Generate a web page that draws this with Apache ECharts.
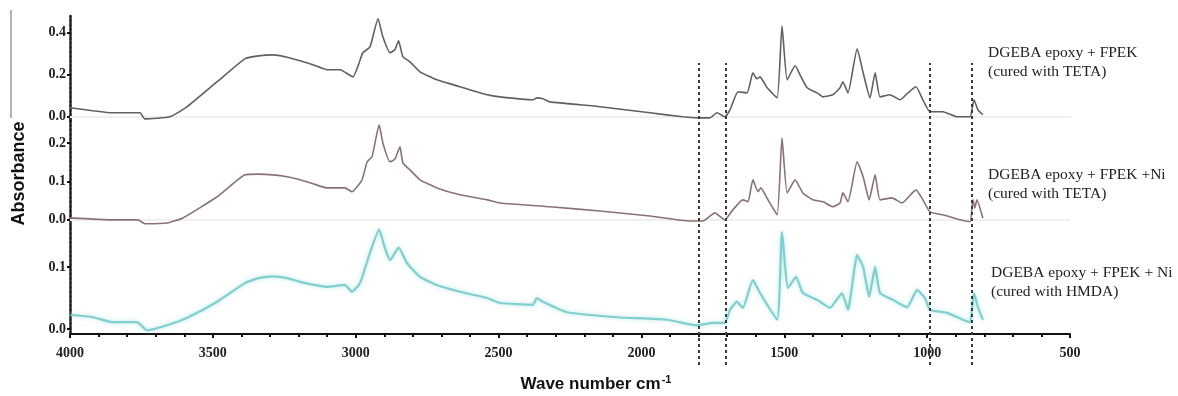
<!DOCTYPE html>
<html>
<head>
<meta charset="utf-8">
<script src="https://cdn.jsdelivr.net/npm/echarts@6/dist/echarts.min.js"></script>
<style>
  html, body { margin: 0; padding: 0; background: #fff; }
  #chart { width: 1178px; height: 396px; }
</style>
</head>
<body>
<div id="chart"></div>
<script>
// FTIR spectra, three stacked panels sharing one wavenumber axis (4000 -> 500 cm-1).
// Values.

// top: DGEBA epoxy + FPEK (TETA)
const waveTop = [4000, 3920, 3850, 3755, 3738, 3650, 3590, 3485, 3388, 3340, 3290, 3240, 3195, 3150, 3100, 3055, 3010,
  2975, 2950, 2922, 2905, 2880, 2863, 2850, 2835, 2810, 2775, 2716, 2635, 2540, 2495, 2380, 2366, 2345,
  2320, 2145, 1970, 1855, 1802, 1760, 1736, 1708, 1690, 1662, 1630, 1610, 1596, 1585, 1560, 1525, 1508,
  1490, 1462, 1445, 1420, 1385, 1364, 1330, 1305, 1295, 1277, 1245, 1224, 1200, 1182, 1165, 1130, 1095,
  1067, 1039, 1015, 990, 945, 895, 850, 836, 822, 805];
const absTop = [0.043, 0.029, 0.019, 0.019, -0.010, 0.000, 0.048, 0.167, 0.276, 0.290, 0.295, 0.284, 0.267, 0.248, 0.224, 0.224, 0.190,
  0.305, 0.333, 0.467, 0.381, 0.305, 0.319, 0.362, 0.286, 0.262, 0.214, 0.176, 0.143, 0.105, 0.095, 0.081, 0.090, 0.086,
  0.071, 0.048, 0.019, 0.000, -0.005, -0.005, 0.019, 0.000, 0.033, 0.119, 0.114, 0.210, 0.181, 0.190, 0.138, 0.090, 0.433,
  0.176, 0.243, 0.200, 0.138, 0.114, 0.095, 0.105, 0.138, 0.167, 0.114, 0.324, 0.210, 0.090, 0.210, 0.095, 0.105, 0.081,
  0.114, 0.143, 0.081, 0.024, 0.024, 0.000, 0.000, 0.081, 0.033, 0.010];

// middle: DGEBA epoxy + FPEK + Ni (TETA)
const waveMid = [4000, 3850, 3762, 3738, 3660, 3605, 3485, 3388, 3340, 3290, 3240, 3195, 3150, 3100, 3038, 3013, 2978,
  2960, 2943, 2918, 2905, 2880, 2863, 2845, 2835, 2810, 2775, 2716, 2635, 2540, 2495, 2320, 2145, 1970,
  1830, 1785, 1743, 1708, 1680, 1645, 1627, 1610, 1592, 1582, 1557, 1525, 1508, 1490, 1462, 1435, 1400,
  1364, 1330, 1305, 1295, 1277, 1245, 1224, 1203, 1182, 1165, 1123, 1088, 1039, 1015, 990, 945, 885,
  850, 840, 833, 826, 805];
const absMid = [0.005, 0.000, 0.000, -0.010, -0.008, 0.005, 0.060, 0.117, 0.119, 0.117, 0.112, 0.104, 0.094, 0.083, 0.083, 0.073, 0.104,
  0.151, 0.164, 0.247, 0.200, 0.151, 0.158, 0.190, 0.148, 0.130, 0.104, 0.083, 0.065, 0.052, 0.044, 0.034, 0.023, 0.010,
  -0.003, -0.003, 0.018, 0.000, 0.026, 0.052, 0.047, 0.104, 0.073, 0.083, 0.052, 0.013, 0.213, 0.070, 0.104, 0.070, 0.052,
  0.047, 0.034, 0.044, 0.070, 0.047, 0.151, 0.112, 0.052, 0.117, 0.052, 0.057, 0.044, 0.078, 0.052, 0.021, 0.013, 0.000,
  -0.005, 0.052, 0.031, 0.052, 0.005];

// bottom: DGEBA epoxy + FPEK + Ni (HMDA)
const waveBot = [4000, 3920, 3850, 3766, 3730, 3660, 3590, 3485, 3388, 3340, 3290, 3240, 3195, 3100, 3038, 3013,
  2985, 2950, 2918, 2898, 2880, 2850, 2820, 2775, 2716, 2635, 2540, 2495, 2380, 2366, 2345, 2260, 2085,
  1910, 1805, 1750, 1708, 1690, 1666, 1645, 1610, 1585, 1525, 1508, 1487, 1459, 1435, 1385, 1340, 1312,
  1298, 1277, 1245, 1224, 1203, 1182, 1165, 1120, 1070, 1035, 1008, 990, 930, 875, 850, 836, 822, 805];
const absBot = [0.023, 0.019, 0.011, 0.011, -0.002, 0.006, 0.018, 0.044, 0.074, 0.082, 0.085, 0.082, 0.076, 0.068, 0.071, 0.060,
  0.074, 0.123, 0.160, 0.131, 0.111, 0.131, 0.106, 0.084, 0.071, 0.060, 0.050, 0.042, 0.039, 0.050, 0.044, 0.027, 0.019,
  0.015, 0.006, 0.010, 0.010, 0.031, 0.044, 0.034, 0.079, 0.058, 0.015, 0.156, 0.066, 0.084, 0.058, 0.047, 0.034, 0.050,
  0.058, 0.031, 0.119, 0.100, 0.052, 0.100, 0.058, 0.047, 0.035, 0.063, 0.050, 0.031, 0.026, 0.015, 0.011, 0.058, 0.035,
  0.015];

const yTicksTop = [0, 0.2, 0.4];
const yTicksMid = [0, 0.1, 0.2];
const yTicksBot = [0, 0.1];
const dashedAt = [1800, 1705, 990, 843];
const panelLabels = [
  "DGEBA epoxy + FPEK\n(cured with TETA)",
  "DGEBA epoxy + FPEK +Ni\n(cured with TETA)",
  "DGEBA epoxy + FPEK + Ni\n(cured with HMDA)",
];

const SERIF = '"Liberation Serif", "Times New Roman", serif';
const SANS = '"Liberation Sans", Arial, sans-serif';
const zip = (xs, ys) => xs.map((x, i) => [x, ys[i]]);

const xBase = { type: "value", min: 500, max: 4000, inverse: true, splitLine: { show: false } };
const faintX = (i) => ({
  ...xBase, gridIndex: i,
  axisLine: { show: true, lineStyle: { color: "#efefef", width: 2 } },
  axisTick: { show: false }, axisLabel: { show: false },
});
const yAxisFor = (i, min, max, ticks, extra) => ({
  type: "value", gridIndex: i, min, max,
  splitLine: { show: false },
  axisLine: { show: true, onZero: false, lineStyle: { color: "#1a1a1a", width: 2.5, type: [3, 1.5] } },
  axisTick: { show: true, length: 3, customValues: ticks, lineStyle: { color: "#111", width: 2 } },
  axisLabel: {
    customValues: ticks, margin: 4,
    color: "#222", fontFamily: SERIF, fontWeight: "bold", fontSize: 14,
    formatter: (v) => v.toFixed(1),
  },
  ...extra,
});
const spectrum = (i, data, color, width, extra) => ({
  type: "line", xAxisIndex: i, yAxisIndex: i, data,
  showSymbol: false, symbol: "none", silent: true, animation: false,
  smooth: 0.15,
  lineStyle: { color, width, ...extra },
});

const chart = echarts.init(document.getElementById("chart"), null, { renderer: "canvas" });
chart.setOption({
  backgroundColor: "#fff",
  animation: false,
  grid: [
    { left: 70, right: 108, top: 16, height: 105 },
    { left: 70, right: 108, top: 121, height: 105 },
    { left: 70, right: 108, top: 226, height: 108 },
    { left: 70, right: 108, top: 63, height: 302 },
  ],
  xAxis: [
    faintX(0),
    faintX(1),
    {
      ...xBase, gridIndex: 2, interval: 500,
      axisLine: { show: true, onZero: false, lineStyle: { color: "#111", width: 2 } },
      axisTick: { show: true, length: 4, lineStyle: { color: "#111", width: 2 } },
      minorTick: { show: true, splitNumber: 5, length: 3, lineStyle: { color: "#111", width: 2 } },
      axisLabel: {
        margin: 12, color: "#222", fontFamily: SERIF, fontWeight: "bold", fontSize: 14,
        formatter: (v) => String(v),
      },
      name: "{b|Wave number cm}{s|-1}",
      nameLocation: "middle", nameGap: 40,
      nameTextStyle: {
        padding: [0, 0, 0, 52],
        rich: {
          b: { fontFamily: SANS, fontWeight: "bold", fontSize: 17, color: "#111" },
          s: { fontFamily: SANS, fontWeight: "bold", fontSize: 11, color: "#111", padding: [0, 0, 9, 1] },
        },
      },
    },
    { ...xBase, gridIndex: 3, show: false },
  ],
  yAxis: [
    yAxisFor(0, -0.02, 0.48, yTicksTop),
    yAxisFor(1, -0.016, 0.257, yTicksMid, {
      name: "Absorbance", nameLocation: "middle", nameRotate: 90, nameGap: 42,
      nameTextStyle: { fontFamily: SANS, fontWeight: "bold", fontSize: 18, color: "#111" },
    }),
    yAxisFor(2, -0.008, 0.166, yTicksBot),
    { type: "value", gridIndex: 3, min: 0, max: 1, show: false },
  ],
  series: [
    spectrum(0, zip(waveTop, absTop), "#5f5f66", 1.6),
    spectrum(1, zip(waveMid, absMid), "#8a7272", 1.6),
    spectrum(2, zip(waveBot, absBot), "rgba(112,200,200,0.85)", 2.2,
      { shadowBlur: 4, shadowColor: "rgba(140,215,215,0.8)" }),
    {
      type: "line", xAxisIndex: 3, yAxisIndex: 3, data: [], silent: true,
      markLine: {
        silent: true, symbol: "none", animation: false,
        label: { show: false },
        lineStyle: { color: "#3a3a3a", width: 2, type: [3, 3] },
        data: dashedAt.map((v) => ({ xAxis: v })),
      },
    },
  ],
  graphic: [
    { type: "line", shape: { x1: 11, y1: 10, x2: 11, y2: 118 }, style: { stroke: "#666", lineWidth: 1 } },
    ...panelLabels.map((t, i) => ({
      type: "text",
      left: [988, 988, 991][i],
      top: [43, 165, 263][i],
      style: { text: t, fill: "#222", font: `15.5px ${SERIF}`, lineHeight: 19 },
    })),
  ],
});
</script>
</body>
</html>
